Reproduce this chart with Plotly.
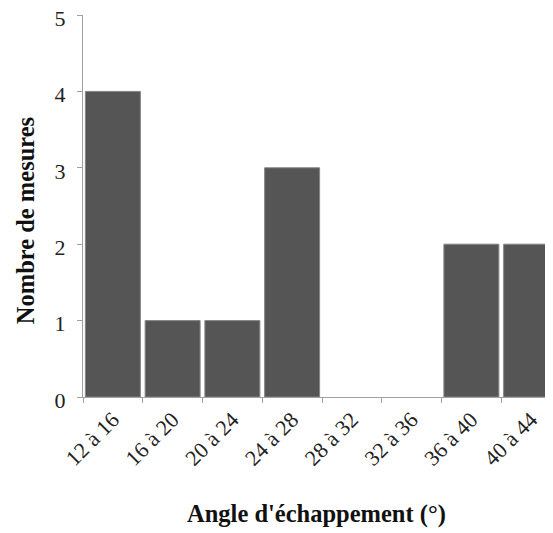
import plotly.graph_objects as go

categories = ["12 à 16", "16 à 20", "20 à 24", "24 à 28", "28 à 32", "32 à 36", "36 à 40", "40 à 44"]
counts = [4, 1, 1, 3, 0, 0, 2, 2]
y_ticks = [0, 1, 2, 3, 4, 5]
x_title = "Angle d'échappement (°)"
y_title = "Nombre de mesures"

fig = go.Figure(go.Bar(
    x=categories, y=counts,
    marker=dict(color="#555555",
                line=dict(color="#858585", width=[1 if c > 0 else 0 for c in counts])),
))

font_family = "Liberation Serif, Times New Roman, serif"
title_font = dict(size=24.5, family=font_family, color="#111111")
fig.update_layout(
    width=553, height=533,
    margin=dict(l=75, r=0, t=7, b=144),
    paper_bgcolor="white", plot_bgcolor="white",
    bargap=0.08,
    showlegend=False,
    font=dict(family=font_family, color="#222222"),
    annotations=[
        dict(text=f"<b>{x_title}</b>", xref="paper", yref="paper", x=0.4895, y=-0.306,
             xanchor="center", yanchor="middle", showarrow=False, font=title_font),
        dict(text=f"<b>{y_title}</b>", xref="paper", yref="paper", x=-0.121, y=0.4607,
             xanchor="center", yanchor="middle", textangle=-90, showarrow=False, font=title_font),
    ],
)
fig.update_xaxes(
    automargin=False,
    range=[-0.5, 7.5],
    showline=True, linecolor="#a0a0a0", linewidth=1,
    ticks="outside", tickson="boundaries", ticklen=5, tickcolor="#a0a0a0",
    tickangle=-45, tickfont=dict(size=22, family=font_family, color="#222222"),
    showgrid=False, zeroline=False,
)
fig.update_yaxes(
    automargin=False,
    range=[0, 5], tickvals=y_ticks,
    showline=True, linecolor="#a0a0a0", linewidth=1,
    ticks="outside", ticklen=5, tickcolor="#a0a0a0", ticklabelstandoff=7,
    ticklabelshift=3, ticklabeloverflow="allow",
    tickfont=dict(size=22, family=font_family, color="#222222"),
    showgrid=False, zeroline=False,
)

fig.write_html("out.html")
